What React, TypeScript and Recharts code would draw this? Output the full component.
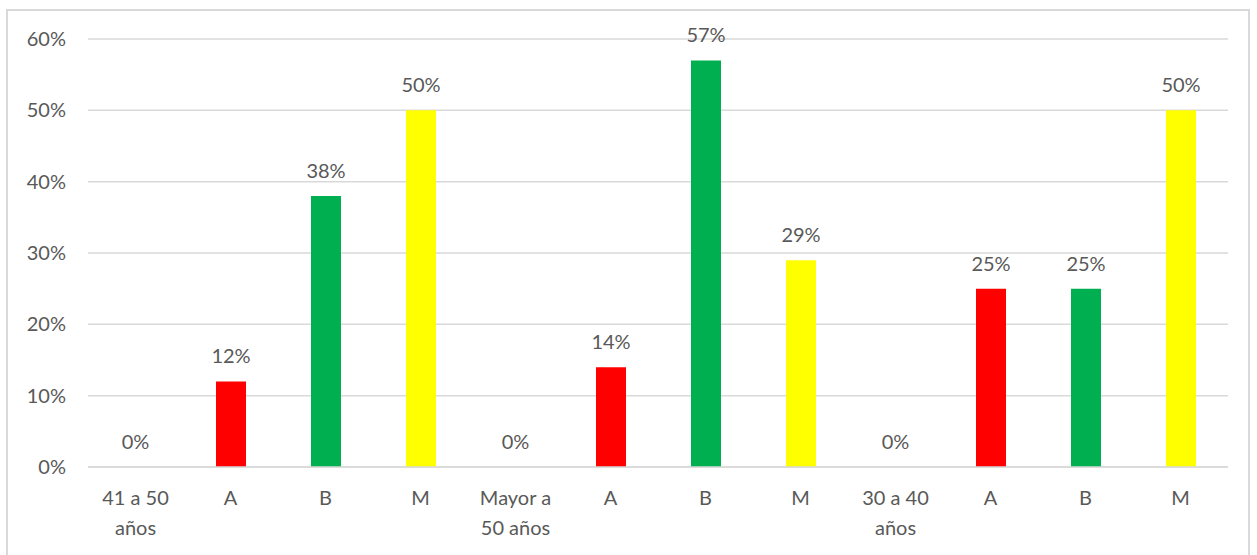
import React from "react";
import { ComposedChart, Bar, Line, XAxis, YAxis, CartesianGrid, LabelList, Cell } from "recharts";

const categories = [
  "41 a 50\naños", "A", "B", "M",
  "Mayor a\n50 años", "A", "B", "M",
  "30 a 40\naños", "A", "B", "M",
];
const values = [0, 12, 38, 50, 0, 14, 57, 29, 0, 25, 25, 50];
const barColors = [
  "#FF0000", "#FF0000", "#00B050", "#FFFF00",
  "#FF0000", "#FF0000", "#00B050", "#FFFF00",
  "#FF0000", "#FF0000", "#00B050", "#FFFF00",
];
const yTicks = [0, 10, 20, 30, 40, 50, 60];

const data = categories.map((c, i) => ({ label: c, value: values[i] }));

const FONT = "Lato, 'Open Sans', sans-serif";
const TEXT = "#595959";

const XTick = (props: any) => {
  const { x, y, payload } = props;
  const lines = String(payload.value).split("\n");
  return (
    <text x={x} y={y + 38} textAnchor="middle" fill={TEXT} fontFamily={FONT} fontSize={20}>
      {lines.map((l: string, i: number) => (
        <tspan key={i} x={x} dy={i === 0 ? 0 : 30}>{l}</tspan>
      ))}
    </text>
  );
};

const ZeroLabel = (props: any) => {
  const { x, y, value } = props;
  if (value !== 0) return null;
  return (
    <text x={x} y={y - 18} textAnchor="middle" fill={TEXT} fontFamily={FONT} fontSize={20}>
      {`${value}%`}
    </text>
  );
};

export default function App() {
  return (
    <div style={{ position: "absolute", left: 0, top: 0, width: 1257, height: 555, background: "#fff", overflow: "hidden" }}>
      <div style={{ position: "absolute", left: 6, top: 9, width: 1244, height: 600, border: "2px solid #d9d9d9", boxSizing: "border-box" }} />
      <div style={{ position: "absolute", left: 0, top: 0 }}>
        <ComposedChart
          width={1257}
          height={555}
          data={data}
          margin={{ top: 39, right: 29, bottom: 0, left: 0 }}
        >
          <CartesianGrid vertical={false} stroke="#d9d9d9" strokeWidth={1.5} />
          <XAxis
            dataKey="label"
            height={88}
            tickLine={false}
            tickSize={0}
            tickMargin={0}
            axisLine={{ stroke: "#d9d9d9", strokeWidth: 1.5 }}
            tick={<XTick />}
            interval={0}
          />
          <YAxis
            width={88}
            domain={[0, 60]}
            ticks={yTicks}
            tickFormatter={(v: number) => `${v}%`}
            axisLine={false}
            tickLine={false}
            tickSize={0}
            tickMargin={22}
            tick={{ fill: TEXT, fontFamily: FONT, fontSize: 20 }}
          />
          <Bar dataKey="value" barSize={30} isAnimationActive={false}>
            {data.map((d, i) => (
              <Cell key={i} fill={barColors[i]} />
            ))}
            <LabelList
              dataKey="value"
              position="top"
              offset={18}
              formatter={(v: number) => `${v}%`}
              style={{ fill: TEXT, fontFamily: FONT, fontSize: 20 }}
            />
          </Bar>
          <Line
            dataKey="value"
            stroke="none"
            strokeWidth={0}
            dot={false}
            activeDot={false}
            legendType="none"
            isAnimationActive={false}
          >
            <LabelList dataKey="value" content={<ZeroLabel />} />
          </Line>
        </ComposedChart>
      </div>
    </div>
  );
}
